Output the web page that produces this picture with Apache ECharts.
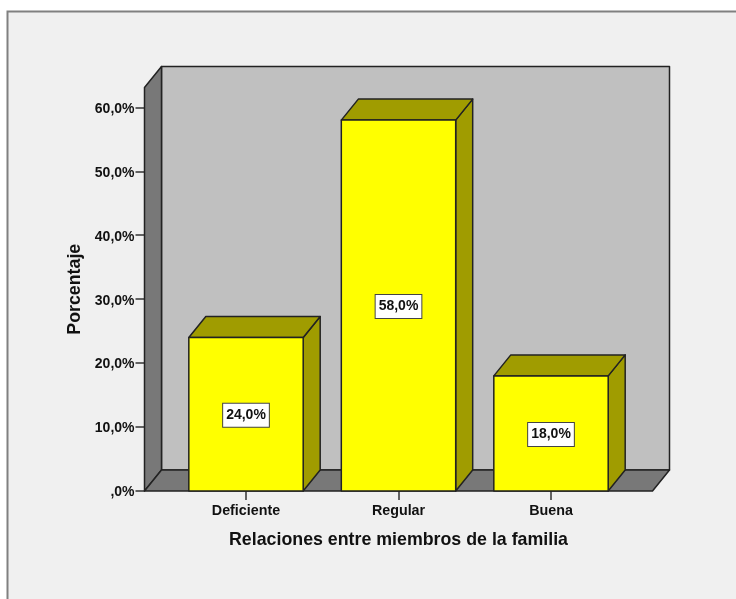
<!DOCTYPE html>
<html>
<head>
<meta charset="utf-8">
<style>
  html, body { margin: 0; padding: 0; background: #fff; }
  #chart { width: 736px; height: 599px; }
</style>
<script src="https://cdn.jsdelivr.net/npm/echarts@6/dist/echarts.min.js"></script>
</head>
<body>
<div id="chart"></div>
<script>
const categories = ['Deficiente', 'Regular', 'Buena']
const percentages = [24, 58, 18]
const barLabels = ['24,0%', '58,0%', '18,0%']
const tickValues = [0, 10, 20, 30, 40, 50, 60]
const tickLabels = [',0%', '10,0%', '20,0%', '30,0%', '40,0%', '50,0%', '60,0%']

const fontFamily = '"Liberation Sans", Arial, sans-serif'
const depthX = 17
const depthY = 21
const outline = '#222'

function renderWalls(params, api) {
  const box = params.coordSys
  const left = box.x - 25.25
  const right = box.x + box.width + 25.25
  const top = box.y
  const bottom = box.y + box.height
  const style = { stroke: outline, lineWidth: 1.5, lineJoin: 'round' }
  return {
    type: 'group',
    children: [
      {
        type: 'polygon',
        shape: { points: [[left + depthX, top - depthY], [right + depthX, top - depthY], [right + depthX, bottom - depthY], [left + depthX, bottom - depthY]] },
        style: { ...style, fill: '#c0c0c0' }
      },
      {
        type: 'polygon',
        shape: { points: [[left, top], [left + depthX, top - depthY], [left + depthX, bottom - depthY], [left, bottom]] },
        style: { ...style, fill: '#787878' }
      },
      {
        type: 'polygon',
        shape: { points: [[left, bottom], [right, bottom], [right + depthX, bottom - depthY], [left + depthX, bottom - depthY]] },
        style: { ...style, fill: '#787878' }
      }
    ]
  }
}

function renderBar(params, api) {
  const top = api.coord([api.value(0), api.value(1)])
  const base = api.coord([api.value(0), 0])
  const width = api.size([1, 0])[0] * 0.75
  const x0 = top[0] - width / 2
  const x1 = top[0] + width / 2
  const style = { stroke: outline, lineWidth: 1.5, lineJoin: 'round' }
  return {
    type: 'group',
    children: [
      {
        type: 'polygon',
        shape: { points: [[x1, top[1]], [x1 + depthX, top[1] - depthY], [x1 + depthX, base[1] - depthY], [x1, base[1]]] },
        style: { ...style, fill: '#a09c00' }
      },
      {
        type: 'polygon',
        shape: { points: [[x0, top[1]], [x0 + depthX, top[1] - depthY], [x1 + depthX, top[1] - depthY], [x1, top[1]]] },
        style: { ...style, fill: '#a09c00' }
      },
      {
        type: 'polygon',
        shape: { points: [[x0, top[1]], [x1, top[1]], [x1, base[1]], [x0, base[1]]] },
        style: { ...style, fill: '#ffff00' }
      },
      {
        type: 'text',
        style: {
          text: barLabels[params.dataIndex],
          x: top[0],
          y: (top[1] + base[1]) / 2 + 1,
          align: 'center',
          verticalAlign: 'middle',
          font: 'bold 14px ' + fontFamily,
          fill: '#111',
          backgroundColor: '#fff',
          borderColor: '#444',
          borderWidth: 1,
          padding: [5, 3, 4, 3]
        }
      }
    ]
  }
}

const chart = echarts.init(document.getElementById('chart'), null, { renderer: 'canvas' })
chart.setOption({
  animation: false,
  backgroundColor: '#fff',
  graphic: [{
    type: 'rect',
    z: -10,
    shape: { x: 7.5, y: 11.5, width: 800, height: 700 },
    style: { fill: '#f0f0f0', stroke: '#808080', lineWidth: 2 }
  }],
  grid: { left: 169.75, top: 87.5, width: 457.5, height: 403.5 },
  xAxis: {
    type: 'category',
    data: categories,
    name: 'Relaciones entre miembros de la familia',
    nameLocation: 'middle',
    nameGap: 40,
    nameTextStyle: { fontWeight: 'bold', fontSize: 17.8, fontFamily, color: '#111' },
    axisLine: { show: false },
    axisTick: { show: true, alignWithLabel: true, length: 9, lineStyle: { color: '#333', width: 1.5 } },
    axisLabel: { margin: 13, fontWeight: 'bold', fontSize: 14.3, fontFamily, color: '#111' }
  },
  yAxis: {
    type: 'value',
    min: 0,
    max: 63.1,
    interval: 10,
    offset: 25.25,
    name: 'Porcentaje',
    nameLocation: 'middle',
    nameGap: 59,
    nameTextStyle: { fontWeight: 'bold', fontSize: 17.8, fontFamily, color: '#111' },
    splitLine: { show: false },
    axisLine: { show: false },
    axisTick: { show: true, length: 9, customValues: tickValues, lineStyle: { color: '#333', width: 1.5 } },
    axisLabel: {
      margin: 10,
      color: '#111',
      customValues: tickValues,
      formatter: value => '{tick|' + tickLabels[tickValues.indexOf(value)] + '}',
      rich: {
        tick: { fontWeight: 'bold', fontSize: 14, fontFamily, color: '#111', padding: [3, 0, 0, 0] }
      }
    }
  },
  series: [
    {
      type: 'custom',
      renderItem: renderWalls,
      data: [[0, 0]],
      clip: false,
      silent: true,
      z: 1
    },
    {
      type: 'custom',
      renderItem: renderBar,
      data: categories.map((name, i) => [i, percentages[i]]),
      encode: { x: 0, y: 1 },
      clip: false,
      z: 2
    }
  ]
})
</script>
</body>
</html>
